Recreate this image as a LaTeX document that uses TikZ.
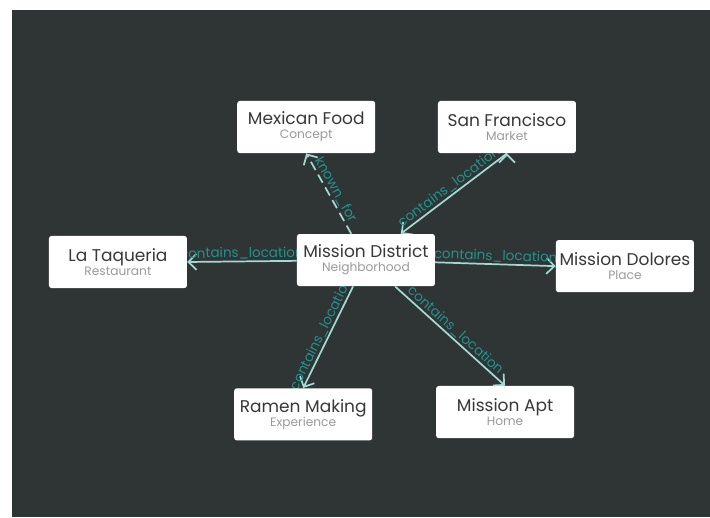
\documentclass[tikz,border=0pt]{standalone}
\usepackage{fontspec}
\setmainfont{Poppins}
\usepackage{tikz}
\usetikzlibrary{shapes,arrows.meta,positioning}
\definecolor{bgdark}{HTML}{2F3534}
\definecolor{edgeline}{HTML}{A3D8D4}
\definecolor{edgetext}{HTML}{23918D}
\definecolor{titlegray}{HTML}{383838}
\definecolor{subgray}{HTML}{9A9A9A}
\pgfdeclarelayer{edgelayer}
\pgfsetlayers{edgelayer,main}

\newcommand{\entity}[2]{{\fontsize{12.8}{13}\selectfont\color{titlegray}#1}\\[-1.5pt]{\fontsize{9.2}{10}\selectfont\color{subgray}#2}}

\begin{document}
\begin{tikzpicture}
   \useasboundingbox (0,0) rectangle (18.78,13.68);
   \tikzstyle{main}=[rectangle, rounded corners=2pt, fill=white, minimum width=3.65cm, minimum height=1.38cm, align=center, inner sep=2pt]
   \tikzstyle{rel}=[draw=edgeline, line width=1.3pt, -{Straight Barb[length=6pt,width=12pt]}]
   \tikzstyle{lbl}=[sloped, above, inner sep=1pt, text=edgetext, font=\fontsize{10.2}{11}\selectfont]
   \node[main] (district) at (9.68,6.80) {\entity{Mission District}{Neighborhood}};
   \node[main] (mexican) at (8.10,10.32) {\entity{Mexican Food}{Concept}};
   \node[main] (sanfran) at (13.41,10.32) {\entity{San Francisco}{Market}};
   \node[main] (taqueria) at (3.12,6.75) {\entity{La Taqueria}{Restaurant}};
   \node[main] (dolores) at (16.53,6.64) {\entity{Mission Dolores}{Place}};
   \node[main] (ramen) at (8.02,2.72) {\entity{Ramen Making}{Experience}};
   \node[main] (apt) at (13.36,2.78) {\entity{Mission Apt}{Home}};
   \begin{pgfonlayer}{edgelayer}
    \fill[bgdark] (0.32,0) rectangle (18.78,13.42);
    \path[rel] (district) edge[dash pattern=on 7pt off 4pt] node[lbl] {known\_for} (mexican.south);
    \path[rel] (sanfran.south) edge node[lbl] {contains\_location} (district);
    \path[rel] (district) edge node[lbl] {contains\_location} (taqueria.east);
    \path[rel] (district) edge node[lbl] {contains\_location} (dolores.west);
    \path[rel] (district) edge node[lbl] {contains\_location} (ramen.north);
    \path[rel] (district) edge node[lbl] {contains\_location} (apt.north);
   \end{pgfonlayer}
\end{tikzpicture}
\end{document}
